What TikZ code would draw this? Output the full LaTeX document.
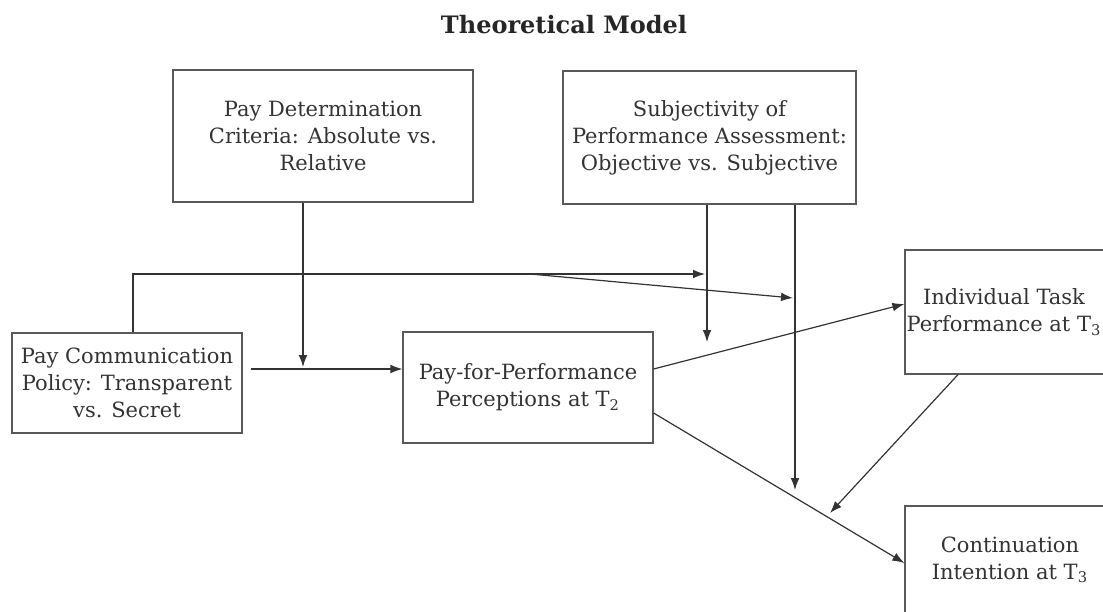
\documentclass[tikz,border=0pt]{standalone}
\usepackage{fontspec}
\setmainfont{DejaVu Serif}
\usetikzlibrary{arrows.meta}
\begin{document}
\begin{tikzpicture}[x=0.5pt,y=-0.5pt,
    box/.style={draw=black!65, line width=0.6pt, align=center, inner sep=0pt, text=black!80,
      font=\fontsize{10.5}{13.5}\selectfont},
    arr/.style={draw=black!80, line width=0.6pt, -{Latex[length=6pt,width=4.4pt]}}]
  \clip (0,0) rectangle (1103,611);
  \node[font=\bfseries\fontsize{12}{14}\selectfont, text=black!85] (title) at (564,25) {Theoretical Model};
  % boxes
  \node[box, minimum width=150pt, minimum height=66pt] (crit) at (323,136) {Pay Determination\\Criteria: Absolute vs.\\Relative};
  \node[box, minimum width=146.5pt, minimum height=66.5pt] (subj) at (709.5,137.5) {Subjectivity of\\Performance Assessment:\\Objective vs. Subjective};
  \node[box, minimum width=115pt, minimum height=50pt] (comm) at (127,383) {Pay Communication\\Policy: Transparent\\vs. Secret};
  \node[box, minimum width=125pt, minimum height=55.5pt] (pfp) at (528,387.5) {Pay-for-Performance\\Perceptions at T\textsubscript{2}};
  \node[box, minimum width=105pt, minimum height=62pt] (perf) at (1010,312) {Individual Task\kern6pt\\Performance at T\textsubscript{3}\kern6pt};
  \node[box, minimum width=105pt, minimum height=54pt] (cont) at (1010,560) {Continuation\\Intention at T\textsubscript{3}};
  % arrow ends
  \coordinate (j1) at (303,367);
  \coordinate (j2) at (707,342);
  \coordinate (j3) at (795,490);
  \coordinate (j4) at (705,274);
  \coordinate (j5) at (530,274);
  \coordinate (j6) at (793,298);
  \coordinate (j7) at (830,513);
  % paths
  \draw[arr] (comm.east |- 0,369) ++(8,0) -- (pfp.west |- 0,369);
  \draw[arr] (j1 |- crit.south) -- (j1);
  \draw[arr] (j2 |- subj.south) -- (j2);
  \draw[arr] (j3 |- subj.south) -- (j3);
  \draw[arr] (comm.north -| 133,0) |- (j4);
  \draw[arr] (j5) -- (j6);
  \draw[arr] (pfp.east |- 0,369) -- (perf.west |- 0,304);
  \draw[arr] (pfp.east |- 0,413) -- (cont.west |- 0,563);
  \draw[arr] (perf.south -| 958,0) -- (j7);
\end{tikzpicture}
\end{document}
